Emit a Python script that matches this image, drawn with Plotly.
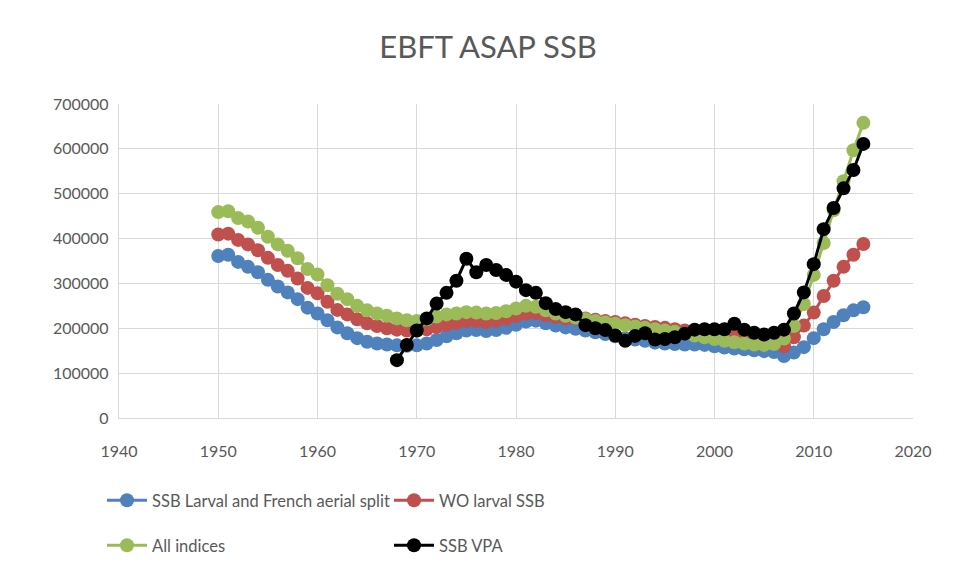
import plotly.graph_objects as go

years = list(range(1950, 2016))
vpa_years = list(range(1968, 2016))

ssb_larval_french = [361, 364, 348, 337, 325, 308, 293, 280, 265, 246,
                     233, 218, 202, 189, 178, 170, 166, 164, 162, 161,
                     162, 166, 174, 182, 189, 195, 196, 194, 196, 201,
                     208, 215, 217, 211, 206, 202, 199, 195, 191, 187,
                     182, 178, 175, 172, 168, 166, 165, 164, 164, 163,
                     160, 157, 155, 153, 151, 149, 147, 138, 146, 158,
                     178, 198, 214, 229, 240, 247]
wo_larval = [409, 411, 397, 387, 374, 357, 341, 328, 311, 290,
             278, 259, 241, 231, 220, 211, 205, 200, 197, 195,
             195, 198, 203, 208, 212, 216, 216, 214, 217, 221,
             227, 233, 234, 229, 225, 222, 222, 222, 219, 216,
             214, 211, 208, 205, 203, 201, 198, 195, 192, 189,
             186, 184, 183, 180, 177, 174, 170, 160, 180, 206,
             235, 272, 306, 337, 364, 388]
all_indices = [459, 461, 446, 438, 424, 404, 387, 373, 356, 332,
               320, 296, 277, 265, 250, 240, 233, 228, 222, 218,
               216, 220, 226, 231, 233, 236, 235, 233, 234, 238,
               244, 250, 248, 240, 233, 228, 224, 220, 216, 213,
               210, 207, 204, 201, 198, 195, 192, 188, 184, 180,
               176, 172, 169, 166, 164, 163, 165, 177, 205, 254,
               319, 390, 463, 528, 597, 658]
ssb_vpa = [129, 163, 195, 222, 255, 279, 306, 355, 325, 341,
           330, 319, 304, 285, 279, 256, 243, 236, 231, 207,
           200, 196, 184, 172, 183, 189, 175, 176, 180, 188,
           197, 198, 198, 198, 210, 197, 190, 186, 190, 197,
           233, 280, 343, 421, 468, 512, 553, 611]

x_ticks = [1940, 1950, 1960, 1970, 1980, 1990, 2000, 2010, 2020]
y_ticks = [0, 100000, 200000, 300000, 400000, 500000, 600000, 700000]

series = [
    ("SSB Larval and French aerial split", years, ssb_larval_french, "#4f81bd", "legend"),
    ("WO larval SSB", years, wo_larval, "#c0504d", "legend"),
    ("All indices", years, all_indices, "#9bbb59", "legend2"),
    ("SSB VPA", vpa_years, ssb_vpa, "#000000", "legend2"),
]

FONT = "Lato, 'Open Sans', sans-serif"
fig = go.Figure()
for name, xs, vals, color, lg in series:
    fig.add_trace(go.Scatter(
        x=xs, y=[v * 1000 for v in vals], name=name, mode="lines+markers",
        line=dict(color=color, width=3),
        marker=dict(color=color, size=14, line=dict(width=0)),
        legend=lg,
    ))

# page has an 8px body margin; the figure is sized to fill the rest
W, H = 949, 572
L, R, T, B = 111, 44, 96, 162

legend_common = dict(orientation="h", xref="container", yref="container",
                     xanchor="left", yanchor="top",
                     entrywidth=232, entrywidthmode="pixels",
                     font=dict(size=16.5, color="#595959", family=FONT),
                     itemwidth=40, bgcolor="rgba(0,0,0,0)")

fig.update_layout(
    width=W, height=H,
    margin=dict(l=L, r=R, t=T, b=B),
    paper_bgcolor="white", plot_bgcolor="white",
    font=dict(family=FONT, color="#595959", size=16),
    title=dict(text="EBFT ASAP SSB", x=(488 - 8) / W, xanchor="center", y=1 - 39 / H,
               yanchor="middle", font=dict(size=31, color="#595959", family=FONT)),
    xaxis=dict(range=[1940, 2020], tickvals=x_ticks, showgrid=True,
               gridcolor="#d9d9d9", gridwidth=1.3, zeroline=False,
               showline=True, linecolor="#d9d9d9", linewidth=1.3,
               ticks="", ticklabelstandoff=19,
               tickfont=dict(size=16, color="#595959")),
    yaxis=dict(range=[0, 700000], tickvals=y_ticks, showgrid=True,
               gridcolor="#d9d9d9", gridwidth=1.3, zeroline=False,
               showline=True, linecolor="#d9d9d9", linewidth=1.3,
               ticks="", tickformat="d", ticklabelstandoff=6,
               tickfont=dict(size=16, color="#595959")),
    legend=dict(legend_common, x=94 / W, y=1 - 475 / H),
    legend2=dict(legend_common, x=94 / W, y=1 - 520 / H),
    showlegend=True,
)
fig.write_html("out.html")
